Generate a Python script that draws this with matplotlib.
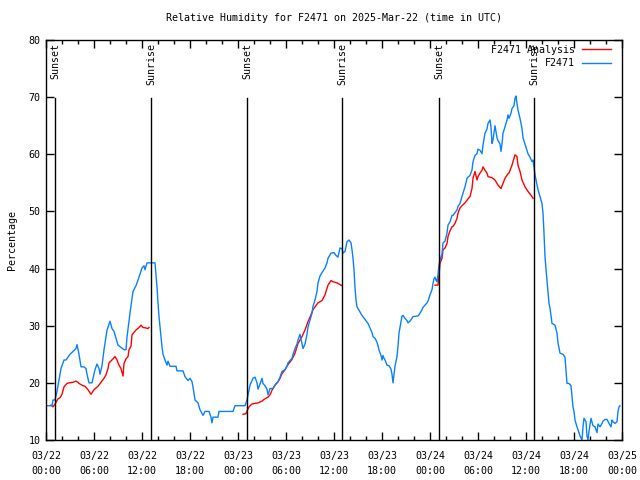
import numpy as np
import matplotlib
matplotlib.use("Agg")
import matplotlib.pyplot as plt
from matplotlib.ticker import MultipleLocator

# hours since 03/22 00:00 UTC
obs_hours = [0, 0.75, 0.875, 1.125, 1.375, 1.625, 1.875, 2.25, 2.5, 2.75, 3, 3.375, 3.75, 3.875, 4.125,
             4.375, 4.75, 5, 5.125, 5.375, 5.75, 6.125, 6.375, 6.625, 6.75, 7, 7.25, 7.625, 8, 8.25,
             8.5, 8.75, 9, 9.75, 10, 10.125, 10.5, 10.875, 11.25, 11.625, 12, 12.25, 12.375, 12.625, 13,
             13.625, 13.875, 14, 14.125, 14.375, 14.5, 14.625, 14.875, 15.125, 15.25, 15.5, 16.25, 16.375,
             17.125, 17.375, 17.75, 18, 18.25, 18.375, 18.625, 19, 19.25, 19.625, 19.875, 20.375, 20.625,
             20.75, 20.875, 21.5, 21.625, 23.375, 23.625, 24.875, 25.125, 25.25, 25.5, 25.875, 26.125,
             26.375, 26.5, 26.75, 27, 27.125, 27.375, 27.625, 27.75, 28, 28.375, 28.625, 29, 29.25, 29.5,
             29.875, 30.125, 30.25, 30.75, 30.875, 31.125, 31.375, 31.5, 31.75, 32, 32.125, 32.375, 32.625,
             32.75, 33, 33.25, 33.375, 33.625, 33.875, 34, 34.25, 34.5, 34.875, 35.125, 35.25, 35.625, 36,
             36.25, 36.5, 36.75, 37, 37.125, 37.375, 37.625, 37.875, 38.125, 38.25, 38.375, 38.5, 38.625,
             38.75, 38.875, 39, 39.25, 39.5, 39.875, 40.25, 40.5, 40.75, 40.875, 41.125, 41.375, 41.5,
             41.625, 41.875, 42, 42.125, 42.25, 42.375, 42.625, 42.875, 43.125, 43.25, 43.375, 43.5, 43.625,
             43.875, 44, 44.125, 44.375, 44.5, 44.625, 44.875, 45.125, 45.25, 45.5, 45.75, 45.875, 46.5,
             46.75, 47, 47.125, 47.375, 47.625, 47.75, 48, 48.25, 48.375, 48.5, 48.625, 48.75, 48.875, 49,
             49.125, 49.25, 49.5, 49.625, 49.875, 50.125, 50.25, 50.5, 50.75, 50.875, 51.125, 51.375, 51.5,
             51.75, 52, 52.125, 52.375, 52.625, 52.75, 53, 53.25, 53.375, 53.625, 53.875, 54, 54.25, 54.5,
             54.625, 54.875, 55.125, 55.25, 55.5, 55.625, 55.75, 55.875, 56.125, 56.375, 56.5, 56.75,
             56.875, 57, 57.125, 57.375, 57.625, 57.75, 57.875, 58.125, 58.25, 58.5, 58.625, 58.75, 58.875,
             59, 59.25, 59.5, 59.625, 59.875, 60.125, 60.25, 60.5, 60.75, 60.875, 61, 61.125, 61.375, 61.5,
             61.75, 62, 62.125, 62.25, 62.375, 62.5, 62.625, 62.75, 62.875, 63, 63.25, 63.625, 63.875, 64,
             64.25, 64.625, 64.875, 65, 65.125, 65.375, 65.625, 65.75, 65.875, 66, 66.125, 66.375, 66.5,
             66.75, 67, 67.125, 67.25, 67.5, 67.625, 67.75, 67.875, 68.125, 68.375, 68.625, 68.875, 69,
             69.25, 69.5, 69.625, 69.875, 70.125, 70.375, 70.625, 70.75, 70.875, 71.125, 71.375, 71.5,
             71.625, 71.75]
obs_rh = [16, 16, 17, 17, 18.5, 20.5, 22.5, 24, 24, 24.5, 25, 25.5, 26, 26.7, 25,
          22.8, 22.8, 22.5, 21.5, 20, 20, 22.3, 23.3, 22.5, 21.5, 23, 25.8, 29.2, 30.8, 29.5,
          29, 27.8, 26.6, 25.8, 25.8, 28, 32.2, 36, 37, 38.5, 40.1, 40.5, 39.8, 41, 41,
          41, 36.8, 34, 31.6, 28, 26.3, 25, 24, 23.1, 23.8, 22.9, 22.9, 22.1,
          22.1, 21.1, 20.4, 20.8, 20.2, 19.3, 17, 16.5, 15.3, 14.3, 15, 15, 14,
          13, 14, 14, 15, 15, 16, 16, 17, 17.9, 19.6, 20.8, 21,
          20, 18.9, 19.8, 20.8, 19.9, 19.5, 18.9, 17.9, 19, 19, 19.6, 20.2, 21, 22,
          22.3, 22.9, 23.5, 24.3, 25, 26, 26.8, 27.5, 28.5, 26.8, 26, 26.8, 28.5,
          29.8, 31, 32.2, 33.4, 34.5, 36, 37.5, 38.7, 39.3, 40.1, 41, 41.8, 42.7, 42.8,
          42.3, 42, 43.6, 43.5, 42.7, 43, 44.7, 45, 44.5, 43.3, 41.8, 39.75, 36.6,
          34.5, 33.3, 33, 32.4, 31.8, 31.1, 30.4, 29.6, 28.8, 28.1, 27.8, 27.1, 26.5,
          25.75, 24.8, 24, 24.8, 24.3, 24, 23.1, 23, 22.4, 21.5, 20, 21.5, 22.9,
          24.6, 26.4, 28.7, 30.7, 31.7, 31.8, 31.3, 30.9, 30.5, 30.8, 31.3, 31.6, 31.7,
          32.2, 32.8, 33.2, 33.6, 34, 34.3, 35.4, 36.3, 37.4, 38.2, 38.5, 38, 37.7, 39,
          40.6, 41.5, 42.5, 44.5, 44.8, 46.2, 47.6, 48.2, 49.3, 49.3, 49.8, 50.25, 50.9,
          51.4, 52.6, 53.2, 54.3, 55.8, 56, 56.3, 57.25, 58.7, 59.8, 60.1, 60.9, 60.7, 60.1,
          61.6, 63.7, 64.4, 65.4, 66, 64.8, 61.9, 62.5, 65, 62.9, 62.4, 61.8,
          60.5, 61.8, 63.7, 64.8, 66, 66.9, 66.3, 67.2, 68, 68.5, 69.8, 70.2, 68.9,
          67.75, 66.3, 64.5, 62.9, 61.8, 60.75, 60.1, 59.5, 58.7, 59, 57.8, 56.4, 54.6, 53.8,
          52.6, 51.4, 49.7, 46.2, 42.1, 39.9, 38, 35.9, 33.9, 33.1, 30.4, 30.1, 28.7, 27,
          25.2, 25, 24.5, 22.25, 19.9, 19.9, 19.5, 17.6, 15.8, 15, 13.5, 12.3, 11.8,
          10.7, 10, 12.3, 13.8, 13.2, 10.7, 10, 11.5, 13.8, 12.5, 12.3, 11.3, 12.8,
          12.3, 12.9, 13.3, 13.6, 13.6, 12.9, 12.3, 13.5, 13.2, 12.9, 13.2, 15,
          15.8, 16]

# analysis runs (three separate pieces)
ana_hours = [
    [0.625, 0.875, 1.125, 1.5, 1.75, 2, 2.25, 2.625, 2.875, 3.375, 3.75, 4, 4.125, 4.625, 4.875,
     5.25, 5.625, 6, 6.5, 6.875, 7.25, 7.5, 7.75, 7.875, 8.375, 8.625, 8.875, 9, 9.125, 9.375,
     9.625, 9.75, 10, 10.25, 10.375, 10.625, 10.75, 10.875, 11.25, 11.625, 11.875, 12.125, 12.5,
     12.75, 12.875],
    [24.625, 25, 25.125, 25.375, 25.75, 26.5, 27, 27.25, 27.75, 28, 28.25, 28.625, 29, 29.25, 29.5,
     29.875, 30.25, 30.75, 31.125, 31.5, 32, 32.375, 32.75, 33, 33.375, 33.625, 34, 34.5, 34.875,
     35.25, 35.625, 35.875, 36.375, 36.75, 37],
    [48.625, 49, 49.125, 49.25, 49.5, 49.625, 49.875, 50.125, 50.25, 50.5, 50.75, 50.875, 51.125,
     51.375, 51.5, 51.75, 52, 52.375, 52.75, 53, 53.25, 53.375, 53.625, 53.875, 54, 54.25, 54.5,
     54.625, 54.875, 55.125, 55.25, 55.75, 56.125, 56.5, 56.875, 57.125, 57.375, 57.75, 57.875,
     58.25, 58.625, 58.875, 59, 59.25, 59.5, 59.875, 60.25, 60.75, 60.875],
]
ana_rh = [
    [16.1, 15.8, 16.3, 17.2, 17.4, 18, 19.3, 19.9, 20, 20.1, 20.3, 20.1, 19.9, 19.5, 19.4,
     18.8, 18, 18.8, 19.4, 20.1, 20.8, 21.4, 22.5, 23.5, 24.2, 24.6, 24, 23.5, 23.1, 22.5,
     21.2, 23.4, 24.2, 24.6, 25.8, 26.4, 28.4, 28.6, 29.25, 29.7, 30.1, 29.7, 29.6,
     29.5, 29.7],
    [14.5, 14.6, 15.1, 15.8, 16.3, 16.5, 16.8, 17.1, 17.5, 17.9, 18.7, 19.6, 20.2, 20.8, 21.6,
     22.3, 23.2, 24.1, 25.2, 26.9, 28.1, 29.25, 30.7, 31.5, 32.8, 33.3, 34, 34.4, 35.4,
     37.1, 37.9, 37.7, 37.5, 37.2, 37],
    [37.1, 37.1, 38.8, 40.9, 41.8, 43.25, 43.6, 44.4, 45.6, 46.6, 47.3, 47.4, 47.9,
     48.8, 49.7, 50.6, 51, 51.5, 52.2, 52.6, 54, 55.8, 57, 55.5, 56.1, 56.7, 57.2,
     57.8, 57.2, 56.7, 56.1, 55.9, 55.5, 54.6, 54, 54.9, 55.8, 56.6, 56.7,
     58.1, 59.9, 59.6, 58.1, 57, 55.5, 54.3, 53.5, 52.6, 52.3],
]

sun_hours = [1.125, 13.125, 25.125, 37.0, 49.125, 61.0]
sun_labels = ["Sunset", "Sunrise", "Sunset", "Sunrise", "Sunset", "Sunrise"]

tick_hours = list(range(0, 73, 6))
tick_labels = ["03/22\n00:00", "03/22\n06:00", "03/22\n12:00", "03/22\n18:00",
               "03/23\n00:00", "03/23\n06:00", "03/23\n12:00", "03/23\n18:00",
               "03/24\n00:00", "03/24\n06:00", "03/24\n12:00", "03/24\n18:00",
               "03/25\n00:00"]

FS = 7.2
plt.rcParams['font.family'] = ['DejaVu Sans Mono']
plt.rcParams['font.size'] = FS

fig = plt.figure(figsize=(6.4, 4.8), dpi=100)
ax = fig.add_axes([46 / 640, 1 - 440 / 480, 576 / 640, 400 / 480])

red = '#ff0000'
blue = '#0a80ff'
for i, (h, v) in enumerate(zip(ana_hours, ana_rh)):
    ax.plot(h, v, color=red, lw=1.0, label='F2471 Analysis' if i == 0 else None)
ax.plot(obs_hours, obs_rh, color=blue, lw=1.0, label='F2471')

for h, lab in zip(sun_hours, sun_labels):
    ax.plot([h, h], [10, 69.8], color='black', lw=1.0)
    ax.text(h, 79.4, lab, rotation=90, ha='center', va='top', fontsize=FS)

ax.set_xlim(0, 72)
ax.set_ylim(10, 80)
ax.set_xticks(tick_hours)
ax.set_xticklabels(tick_labels, linespacing=1.55)
ax.xaxis.set_minor_locator(MultipleLocator(2))
ax.set_yticks(range(10, 81, 10))
ax.tick_params(which='both', direction='in', top=True, right=True, width=1, colors='black')
ax.tick_params(which='major', length=6)
ax.tick_params(which='minor', length=3)
ax.tick_params(axis='x', pad=8)
ax.tick_params(axis='y', pad=4)
for s in ax.spines.values():
    s.set_linewidth(1.0)

ax.set_ylabel('Percentage', labelpad=8)
ax.set_title('Relative Humidity for F2471 on 2025-Mar-22 (time in UTC)', pad=14, fontsize=FS)

ax.legend(loc='upper right', frameon=False, markerfirst=False, handlelength=2.9,
          borderaxespad=0.1, labelspacing=0.35, handletextpad=0.7, bbox_to_anchor=(0.99, 1.0))

fig.savefig('out.png', dpi=100)
